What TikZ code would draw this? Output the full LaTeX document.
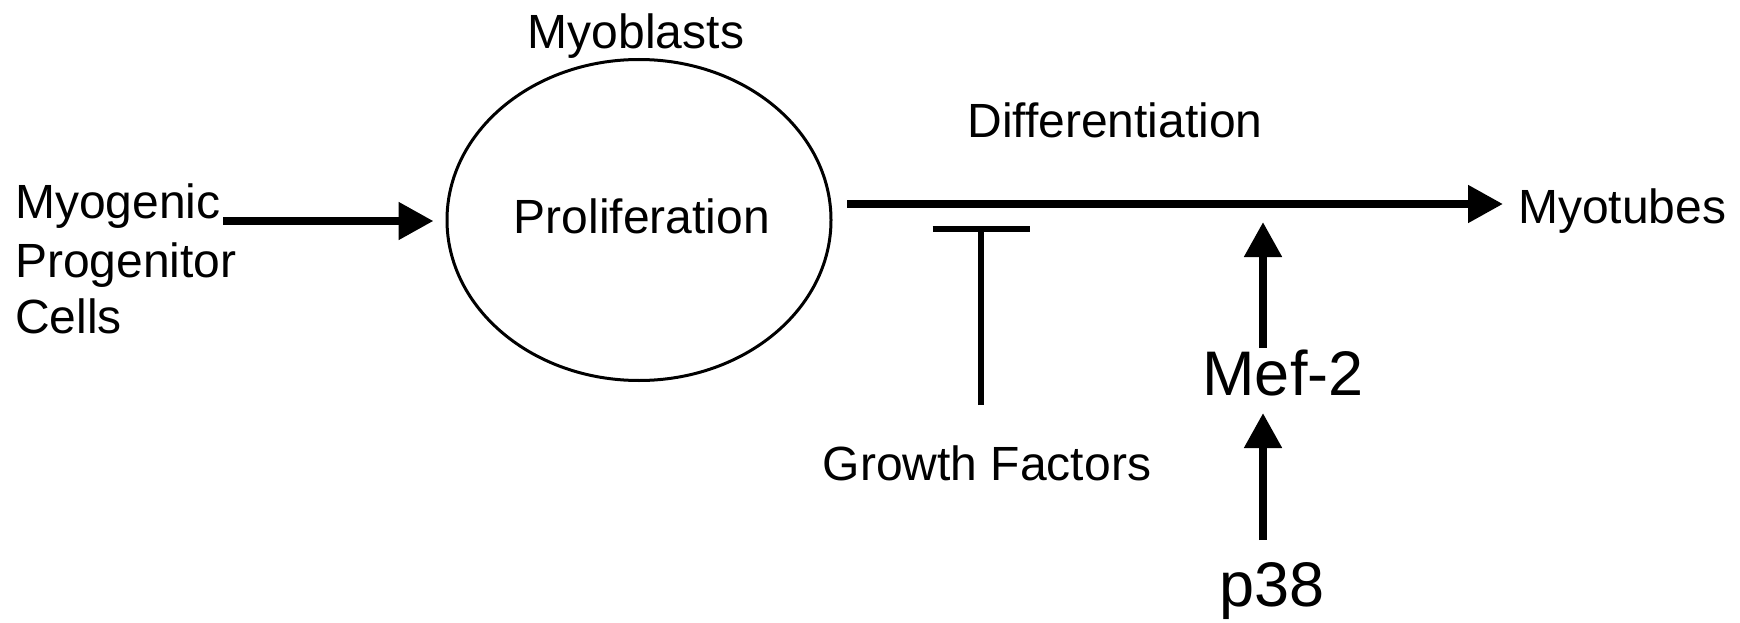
\documentclass[tikz,border=0pt]{standalone}
\usepackage{fontspec}
\setmainfont{Liberation Sans}
\usetikzlibrary{arrows.meta,shapes.geometric}
\tikzset{
  lbl/.style={font=\fontsize{48}{57}\selectfont, inner sep=0pt},
  big/.style={font=\fontsize{63}{72}\selectfont, inner sep=0pt},
  thickarrow/.style={line width=8pt, -{Triangle[length=35pt,width=36pt]}},
  inhib/.style={line width=6pt},
}
\begin{document}
\begin{tikzpicture}[x=1pt,y=-1pt]
\useasboundingbox (0,0) rectangle (1740,623);
% labels
\node[lbl, anchor=base west] (mpc1) at (15,218) {Myogenic};
\node[lbl, anchor=base west] (mpc2) at (15,277) {Progenitor};
\node[lbl, anchor=base west] (mpc3) at (15,333) {Cells};
\node[lbl, anchor=base] (myoblasts) at (636,49) {Myoblasts};
\node[ellipse, draw, line width=3pt, minimum width=384pt, minimum height=321pt,
      inner sep=0pt] (pro) at (639,220) {};
\node[lbl, anchor=base] (prolab) at (642,233) {Proliferation};
\node[lbl, anchor=base] (diff) at (1115,138) {Differentiation};
\node[lbl, anchor=base west] (myotubes) at (1518,223) {Myotubes};
\node[lbl, anchor=base] (gf) at (987,480) {Growth Factors};
\node[big, anchor=base] (mef) at (1283,395) {Mef-2};
\node[big, anchor=base] (p38) at (1272,606) {p38};
% coordinates
\coordinate (a1s) at (223,221);
\coordinate (dstart) at (847,204);
\coordinate (dend) at (1503,204);
\coordinate (gfbot) at (981,405);
\coordinate (gftop) at (981,229);
\coordinate (mefbot) at (1263,348);
\coordinate (meftop) at (1263,222);
\coordinate (p38bot) at (1263,540);
\coordinate (p38top) at (1263,413);
% connectors
\draw[thickarrow] (a1s) -- (pro.west |- a1s) [shorten >=12pt];
\draw[thickarrow] (dstart) -- (dend);
\draw[inhib] (gfbot) -- (gftop);
\draw[inhib] ([xshift=-48.5pt]gftop) -- ([xshift=48.5pt]gftop);
\draw[thickarrow] (mefbot) -- (meftop);
\draw[thickarrow] (p38bot) -- (p38top);
\end{tikzpicture}
\end{document}
